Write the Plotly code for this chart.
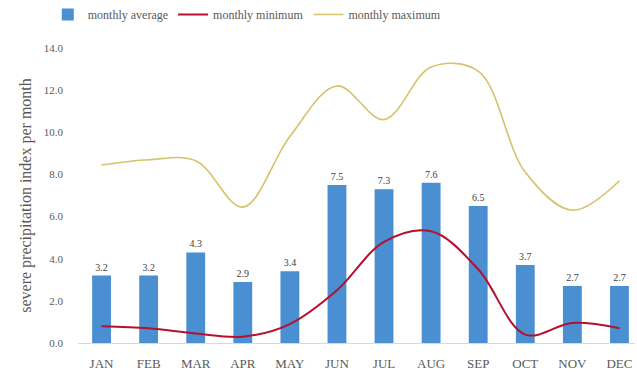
import plotly.graph_objects as go

months = ["JAN", "FEB", "MAR", "APR", "MAY", "JUN", "JUL", "AUG", "SEP", "OCT", "NOV", "DEC"]
monthly_average = [3.2, 3.2, 4.3, 2.9, 3.4, 7.5, 7.3, 7.6, 6.5, 3.7, 2.7, 2.7]
monthly_minimum = [0.8, 0.7, 0.45, 0.3, 0.9, 2.5, 4.8, 5.3, 3.5, 0.4, 0.95, 0.7]
monthly_maximum = [8.45, 8.7, 8.65, 6.45, 9.8, 12.2, 10.6, 13.1, 12.9, 8.1, 6.3, 7.7]
y_ticks = [0, 2, 4, 6, 8, 10, 12, 14]
y_tick_labels = ["0.0", "2.0", "4.0", "6.0", "8.0", "10.0", "12.0", "14.0"]

SERIF = "Liberation Serif"
x = list(range(len(months)))

fig = go.Figure()
fig.add_trace(go.Bar(
    x=x, y=monthly_average, name="monthly average",
    marker=dict(color="#4A8FD1", line=dict(width=0)),
    width=0.4,
    text=[f"{v:.1f}" for v in monthly_average],
    textposition="outside", cliponaxis=False,
    textfont=dict(family=SERIF, size=10, color="#404040"),
))
fig.add_trace(go.Scatter(
    x=x, y=monthly_minimum, name="monthly minimum", mode="lines",
    line=dict(color="#B5102E", width=2, shape="spline", smoothing=1.0),
))
fig.add_trace(go.Scatter(
    x=x, y=monthly_maximum, name="monthly maximum", mode="lines",
    line=dict(color="#D6C26A", width=1.6, shape="spline", smoothing=1.0),
))

fig.update_layout(
    width=637, height=377,
    margin=dict(l=78, r=2, t=48, b=34),
    paper_bgcolor="white", plot_bgcolor="white",
    font=dict(family=SERIF, color="#595959"),
    showlegend=True,
    legend=dict(
        orientation="h", xref="container", yref="container",
        x=0.075, y=1.0, xanchor="left", yanchor="top",
        font=dict(family=SERIF, size=12, color="#595959"),
        itemwidth=30, tracegroupgap=0,
    ),
    xaxis=dict(
        tickmode="array", tickvals=x, ticktext=months,
        range=[-0.5, 11.33], showgrid=False, zeroline=False,
        showline=True, linecolor="#D9D9D9", linewidth=1,
        ticks="", ticklabelstandoff=8,
        tickfont=dict(family=SERIF, size=13, color="#595959"),
    ),
    yaxis=dict(
        range=[0, 14], tickmode="array", tickvals=y_ticks, ticktext=y_tick_labels,
        showgrid=False, zeroline=False, showline=False, ticks="",
        ticklabelstandoff=14,
        tickfont=dict(family=SERIF, size=11, color="#595959"),
        title=dict(text="severe precipitation index per month",
                   font=dict(family=SERIF, size=16, color="#595959"), standoff=8),
    ),
    bargap=0.6,
)

fig.write_html("out.html")
